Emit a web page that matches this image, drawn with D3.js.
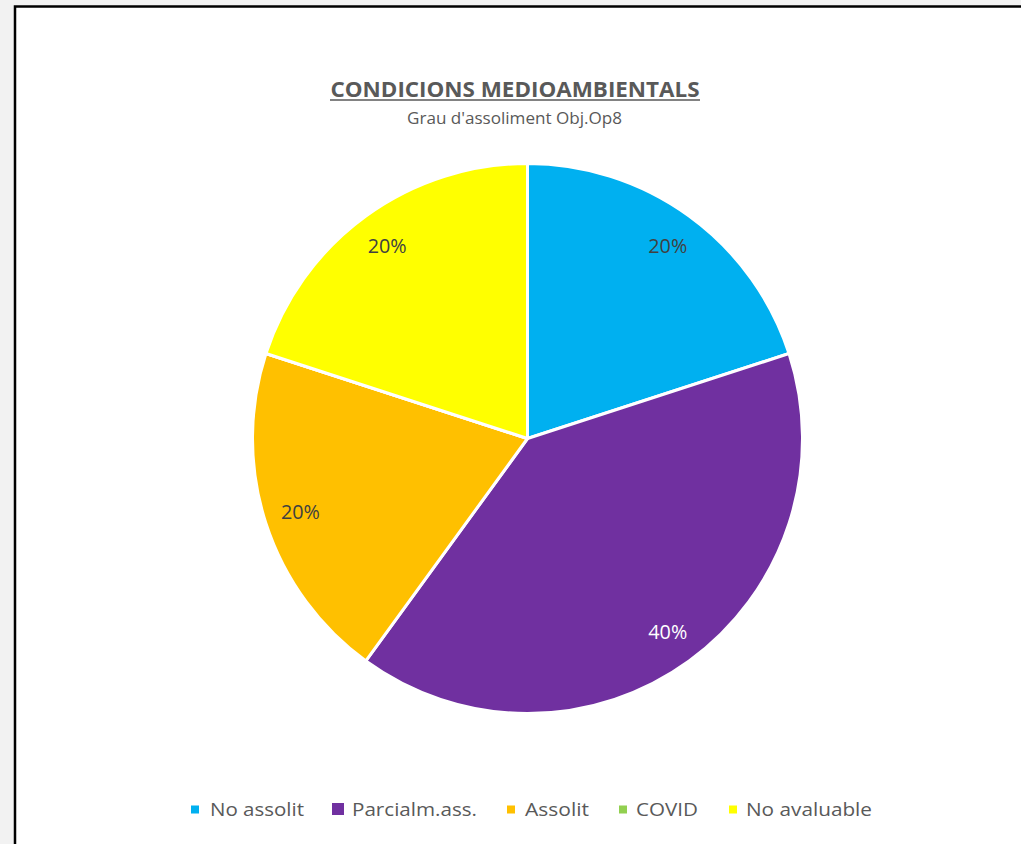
<!DOCTYPE html>
<html><head><meta charset="utf-8">
<script src="https://cdn.jsdelivr.net/npm/d3@7"></script>
<style>
html,body{margin:0;padding:0;background:#f2f2f2;overflow:hidden;}
svg{display:block;}
</style></head>
<body>
<svg id="c" width="1021" height="844"></svg>
<script>
const categories = ["No assolit", "Parcialm.ass.", "Assolit", "COVID", "No avaluable"];
const values = [1, 2, 1, 0, 1];
const colors = ["#00b0f0", "#7030a0", "#ffc000", "#92d050", "#ffff00"];
const labelColors = ["#404040", "#ffffff", "#404040", "#404040", "#404040"];
const title = "CONDICIONS MEDIOAMBIENTALS";
const subtitle = "Grau d'assoliment Obj.Op8";

const svg = d3.select("#c");
const font = "'Open Sans', sans-serif";

// chart frame
svg.append("rect").attr("x", 15).attr("y", 6.5).attr("width", 1030).attr("height", 860)
  .attr("fill", "#ffffff").attr("stroke", "#000000").attr("stroke-width", 2.5);

// title
svg.append("text").attr("x", 515).attr("y", 97).attr("text-anchor", "middle")
  .attr("font-family", font).attr("font-size", 21).attr("font-weight", "bold")
  .attr("fill", "#595959")
  .attr("textLength", 369).attr("lengthAdjust", "spacingAndGlyphs")
  .text(title);
svg.append("line").attr("x1", 330).attr("x2", 700).attr("y1", 100).attr("y2", 100)
  .attr("stroke", "#595959").attr("stroke-width", 1.6);
svg.append("text").attr("x", 514.5).attr("y", 124).attr("text-anchor", "middle")
  .attr("font-family", font).attr("font-size", 16).attr("fill", "#595959")
  .attr("textLength", 215).attr("lengthAdjust", "spacingAndGlyphs")
  .text(subtitle);

// pie
const cx = 527.5, cy = 438.5, R = 275;
const total = d3.sum(values);
const pie = d3.pie().sort(null).value(d => d)(values);
const arc = d3.arc().innerRadius(0).outerRadius(R);
const labelArc = d3.arc().innerRadius(R * 0.868).outerRadius(R * 0.868);
const g = svg.append("g").attr("transform", `translate(${cx},${cy})`);
g.selectAll("path").data(pie).join("path")
  .attr("d", arc).attr("fill", (d, i) => colors[i])
  .attr("stroke", "#ffffff").attr("stroke-width", 3).attr("stroke-linejoin", "round");
g.selectAll("text").data(pie.filter(d => d.data > 0)).join("text")
  .attr("transform", d => `translate(${labelArc.centroid(d)})`)
  .attr("text-anchor", "middle").attr("dy", "0.36em")
  .attr("font-family", font).attr("font-size", 20)
  .attr("fill", d => labelColors[d.index])
  .attr("textLength", 39).attr("lengthAdjust", "spacingAndGlyphs")
  .text(d => d3.format(".0%")(d.data / total));

// legend
const legendSq = [[191, 805.5, 8], [332, 803, 12], [507, 805.5, 8], [619, 805.5, 8], [729, 805.5, 8]];
const legendText = [[210, 94], [352, 125], [525, 64], [636, 62], [746, 126]];
const lg = svg.append("g");
categories.forEach((c, i) => {
  lg.append("rect").attr("x", legendSq[i][0]).attr("y", legendSq[i][1])
    .attr("width", legendSq[i][2]).attr("height", legendSq[i][2])
    .attr("fill", colors[i]);
  lg.append("text").attr("x", legendText[i][0]).attr("y", 815.5)
    .attr("font-family", font).attr("font-size", 18.5).attr("fill", "#595959")
    .attr("textLength", legendText[i][1]).attr("lengthAdjust", "spacingAndGlyphs")
    .text(c);
});
</script>
</body></html>
